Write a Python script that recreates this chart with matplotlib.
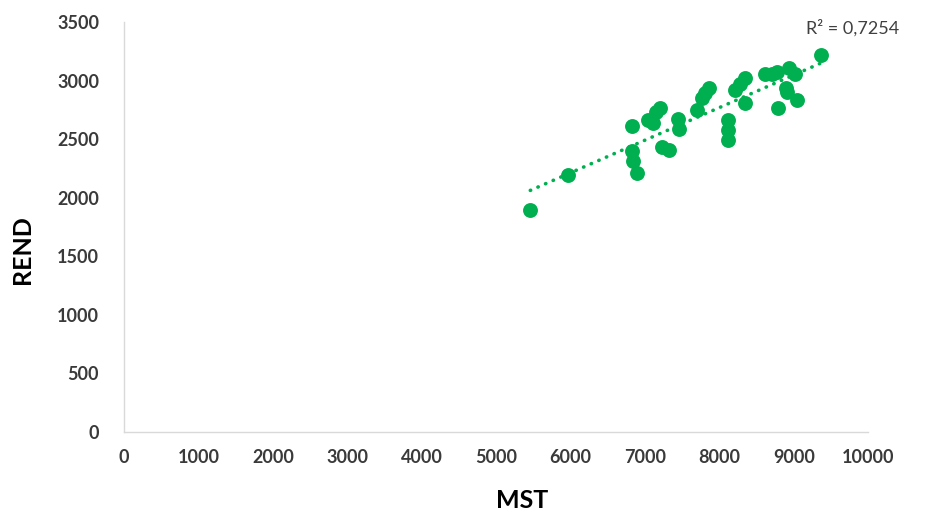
import matplotlib
matplotlib.use("Agg")
import matplotlib.pyplot as plt
import numpy as np

# MST vs REND values
mst = [5460, 5970, 6830, 6820, 6840, 6900, 7045, 7110, 7155, 7200, 7225, 7325,
       7450, 7460, 7705, 7765, 7810, 7855, 8120, 8120, 8120, 8215, 8280, 8340,
       8350, 8620, 8710, 8775, 8935, 9015, 8890, 8910, 8790, 9050, 9360]
rend = [1895, 2195, 2610, 2395, 2310, 2215, 2665, 2635, 2735, 2765, 2435, 2410,
        2670, 2590, 2745, 2850, 2890, 2935, 2665, 2580, 2495, 2920, 2975, 3020,
        2805, 3055, 3055, 3075, 3105, 3060, 2935, 2905, 2765, 2835, 3215]
x_ticks = [0, 1000, 2000, 3000, 4000, 5000, 6000, 7000, 8000, 9000, 10000]
y_ticks = [0, 500, 1000, 1500, 2000, 2500, 3000, 3500]

green = "#00B050"
plt.rcParams['font.family'] = ['Lato', 'DejaVu Sans']

fig = plt.figure(figsize=(9.36, 5.13), dpi=100)
ax = fig.add_axes([0.1325, 0.158, 0.795, 0.799])

ax.scatter(mst, rend, s=115, color=green, zorder=3, linewidths=0)

# linear trend line
x = np.array(mst)
y = np.array(rend)
k, b = np.polyfit(x, y, 1)
xl = np.array([x.min(), x.max()])
ax.plot(xl, k * xl + b, color=green, lw=2.6, linestyle=(0, (0.1, 2.2)),
        dash_capstyle="round", zorder=2)

ax.set_xlim(0, 10000)
ax.set_ylim(0, 3500)
ax.set_xticks(x_ticks)
ax.set_yticks(y_ticks)
ax.tick_params(length=0, labelsize=13, colors="#3a3a3a")
ax.tick_params(axis="y", pad=18)
ax.tick_params(axis="x", pad=12)
for lab in ax.get_xticklabels() + ax.get_yticklabels():
    lab.set_fontweight("bold")

for s in ["top", "right"]:
    ax.spines[s].set_visible(False)
for s in ["left", "bottom"]:
    ax.spines[s].set_color("#d9d9d9")
    ax.spines[s].set_linewidth(1)

# axis titles sit off-centre in the original, so place them on the figure
fig.text(522 / 936, 1 - 501 / 513, "MST", fontsize=18, fontweight="bold",
         ha="center", va="center")
fig.text(22 / 936, 1 - 250 / 513, "REND", fontsize=18, fontweight="bold",
         ha="center", va="center", rotation=90)

fig.text(806 / 936, 1 - 28 / 513, "R² = 0,7254", fontsize=13, color="#404040",
         va="center", ha="left")

fig.savefig("out.png", dpi=100)
